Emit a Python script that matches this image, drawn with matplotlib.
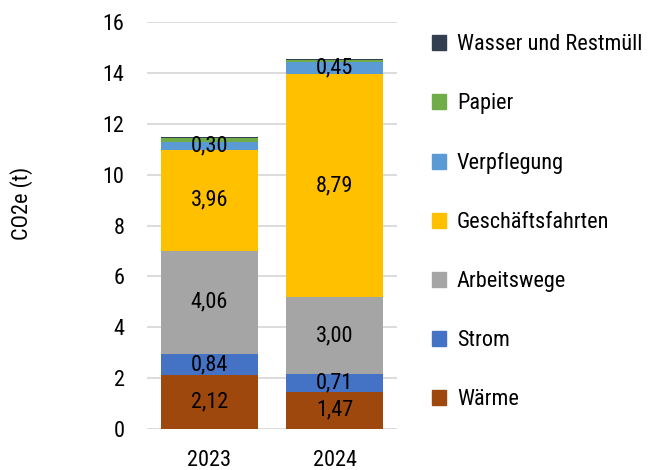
import matplotlib
matplotlib.use("Agg")
import matplotlib.pyplot as plt
from matplotlib.patches import Patch

plt.rcParams['font.family'] = ['Roboto Condensed', 'DejaVu Sans']

years = ["2023", "2024"]
categories = ["Wärme", "Strom", "Arbeitswege", "Geschäftsfahrten",
              "Verpflegung", "Papier", "Wasser und Restmüll"]
waerme = [2.12, 1.47]
strom = [0.84, 0.71]
arbeitswege = [4.06, 3.00]
geschaeftsfahrten = [3.96, 8.79]
verpflegung = [0.30, 0.45]
papier = [0.17, 0.09]
wasser = [0.02, 0.02]
series = [waerme, strom, arbeitswege, geschaeftsfahrten, verpflegung, papier, wasser]
colors = ["#9E480E", "#4472C4", "#A5A5A5", "#FFC000", "#5B9BD5", "#70AD47", "#333F50"]
show_label = [True, True, True, True, True, False, False]

fig = plt.figure(figsize=(6.61, 4.70), dpi=100)
ax = fig.add_axes([0.222, 0.087, 0.379, 0.866])

x = range(len(years))
bottom = [0.0, 0.0]
for vals, col, lab, show in zip(series, colors, categories, show_label):
    ax.bar(x, vals, width=0.77, bottom=bottom, color=col, zorder=3)
    if show:
        for i, v in enumerate(vals):
            ax.text(i, bottom[i] + v / 2, f"{v:.2f}".replace(".", ","),
                    ha="center", va="center", fontsize=16, zorder=4)
    bottom = [b + v for b, v in zip(bottom, vals)]

ax.set_xlim(-0.5, 1.5)
ax.set_ylim(0, 16)
ax.set_yticks(range(0, 17, 2))
ax.set_xticks(list(x))
ax.set_xticklabels(years)
ax.grid(axis="y", color="#D9D9D9", linewidth=1.3, zorder=0)
for s in ax.spines.values():
    s.set_visible(False)
ax.tick_params(axis="both", length=0, labelsize=16)
ax.tick_params(axis="y", pad=16)
ax.tick_params(axis="x", pad=15)
fig.text(22 / 661, 1 - 203 / 470, "CO2e (t)", rotation=90, fontsize=16,
         ha="center", va="center")

handles = [Patch(color=c, label=l) for c, l in zip(colors, categories)][::-1]
fig.legend(handles=handles, loc="upper left", bbox_to_anchor=(0.623, 0.970),
           frameon=False, fontsize=16, handlelength=0.63, handleheight=0.63,
           handletextpad=0.5, labelspacing=1.71)

fig.savefig("out.png", dpi=100)
